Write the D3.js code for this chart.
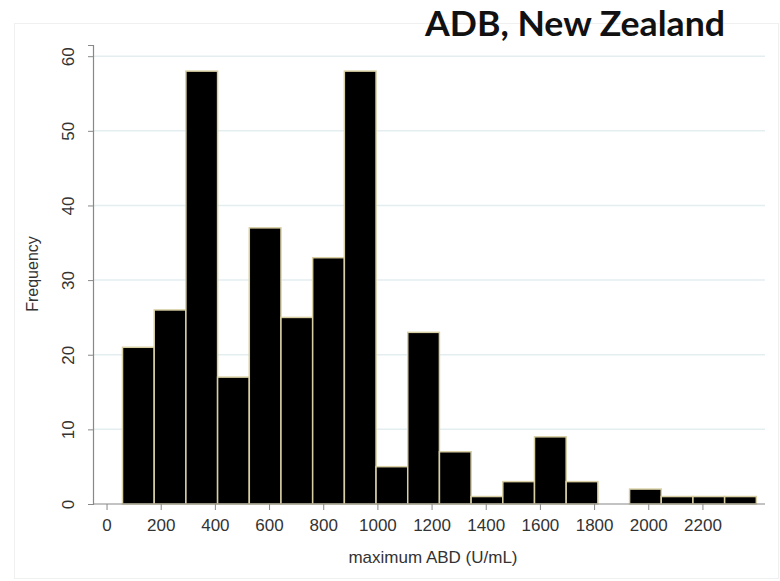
<!DOCTYPE html>
<html>
<head>
<meta charset="utf-8">
<script src="https://cdn.jsdelivr.net/npm/d3@7"></script>
<style>
  body { margin: 0; background: #fff; }
  svg text { font-family: "Liberation Sans", Arial, sans-serif; }
</style>
</head>
<body>
<div id="chart"></div>
<script>
// data
let binLow = [59, 176, 293, 410, 527, 644, 761, 878, 995, 1112,
              1229, 1346, 1463, 1580, 1697, 1814, 1931, 2048, 2165, 2282];
let binWidth = 117;
let counts = [21, 26, 58, 17, 37, 25, 33, 58, 5, 23,
              7, 1, 3, 9, 3, 0, 2, 1, 1, 1];
let xTicks = [0, 200, 400, 600, 800, 1000, 1200, 1400, 1600, 1800, 2000, 2200];
let yTicks = [0, 10, 20, 30, 40, 50, 60];
let gridTicks = [10, 20, 30, 40, 50, 60];

let width = 780, height = 581;

let svg = d3.select("#chart")
    .append("svg")
    .attr("width", width)
    .attr("height", height);

// faint outer frame
svg.append("rect")
    .attr("x", 14.5).attr("y", 23.5)
    .attr("width", 764).attr("height", 555)
    .attr("fill", "none")
    .attr("stroke", "#f0f0f0");

let x = d3.scaleLinear().domain([-50, 2431]).range([93, 765]);
let y = d3.scaleLinear().domain([0, 61.5]).range([504, 45]);

// grid lines
svg.append("g")
    .selectAll("line")
    .data(gridTicks)
    .join("line")
    .attr("x1", 93).attr("x2", 765)
    .attr("y1", d => y(d)).attr("y2", d => y(d))
    .attr("stroke", "#e4eef0")
    .attr("stroke-width", 1.5);

// bars
svg.append("g")
    .selectAll("rect")
    .data(counts.map((c, i) => ({x0: binLow[i], c: c})).filter(d => d.c > 0))
    .join("rect")
    .attr("x", d => x(d.x0))
    .attr("width", d => x(d.x0 + binWidth) - x(d.x0))
    .attr("y", d => y(d.c))
    .attr("height", d => y(0) - y(d.c))
    .attr("fill", "#000")
    .attr("stroke", "#d8d0a4")
    .attr("stroke-width", 1.5);

// y axis
let yAxis = svg.append("g")
    .attr("transform", "translate(93,0)")
    .call(d3.axisLeft(y).tickValues(yTicks).tickSize(5).tickFormat(d3.format("d")));
yAxis.select(".domain").attr("stroke", "#888").attr("stroke-width", 1.2);
yAxis.selectAll(".tick line").attr("stroke", "#888");
yAxis.selectAll(".tick text")
    .attr("transform", "rotate(-90)")
    .attr("x", 0)
    .attr("y", -25)
    .attr("dy", "0.35em")
    .attr("text-anchor", "middle")
    .attr("fill", "#333")
    .style("font-size", "17px");

// x axis
let xAxis = svg.append("g")
    .attr("transform", "translate(0,504)")
    .call(d3.axisBottom(x).tickValues(xTicks).tickSize(6).tickPadding(9)
        .tickSizeOuter(0).tickFormat(d3.format("d")));
xAxis.select(".domain").attr("stroke", "#888").attr("stroke-width", 1.2)
    .attr("d", "M93,0H765");
xAxis.selectAll(".tick line").attr("stroke", "#888");
xAxis.selectAll(".tick text")
    .attr("fill", "#333")
    .style("font-size", "17px");

// axis titles
svg.append("text")
    .attr("transform", "translate(38,274) rotate(-90)")
    .attr("text-anchor", "middle")
    .attr("fill", "#333")
    .style("font-size", "16px")
    .text("Frequency");

svg.append("text")
    .attr("x", 433)
    .attr("y", 563)
    .attr("text-anchor", "middle")
    .attr("fill", "#333")
    .style("font-size", "17px")
    .text("maximum ABD (U/mL)");

// title
svg.append("text")
    .attr("x", 425)
    .attr("y", 36)
    .attr("fill", "#111")
    .attr("textLength", 300)
    .attr("lengthAdjust", "spacingAndGlyphs")
    .style("font-family", "Lato, 'Open Sans', sans-serif")
    .style("font-weight", "bold")
    .style("font-size", "35px")
    .text("ADB, New Zealand");
</script>
</body>
</html>
